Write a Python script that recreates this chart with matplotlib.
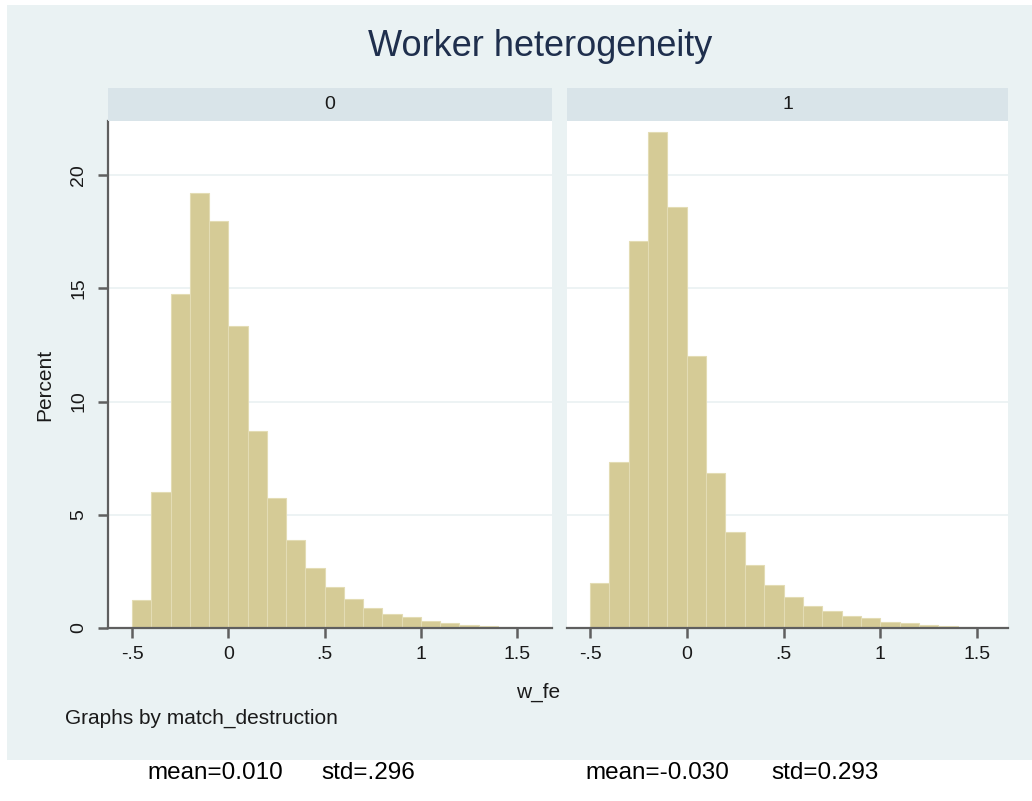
import matplotlib
matplotlib.use("Agg")
import matplotlib.pyplot as plt
from matplotlib.patches import Rectangle

plt.rcParams['font.family'] = ['Liberation Sans', 'DejaVu Sans']

# ---- data ----
bin_edges_start = -0.5
bin_width = 0.1
groups = ["0", "1"]
pct_group0 = [1.23, 6.02, 14.76, 19.2, 17.96, 13.35, 8.69, 5.72, 3.89, 2.64,
              1.80, 1.30, 0.88, 0.63, 0.47, 0.32, 0.20, 0.12, 0.08, 0.05]
pct_group1 = [1.98, 7.32, 17.07, 21.88, 18.6, 12.0, 6.83, 4.24, 2.79, 1.88,
              1.39, 0.99, 0.73, 0.55, 0.43, 0.27, 0.20, 0.12, 0.08, 0.05]
xticks = [-0.5, 0, 0.5, 1, 1.5]
xticklabels = ["-.5", "0", ".5", "1", "1.5"]
yticks = [0, 5, 10, 15, 20]
yticklabels = ["0", "5", "10", "15", "20"]
mean_labels = ["mean=0.010", "mean=-0.030"]
std_labels = ["std=.296", "std=0.293"]
title = "Worker heterogeneity"
xlabel = "w_fe"
ylabel = "Percent"
note = "Graphs by match_destruction"

W, H = 1032, 801
fig = plt.figure(figsize=(W / 100, H / 100), dpi=100)
fig.patch.set_facecolor("white")

def fx(px):
    return px / W

def fy(py):
    return (H - py) / H

bg_col = "#eaf2f3"
strip_col = "#d9e4e9"
bar_col = "#d5cb96"
edge_col = "#e3dcb4"
axis_col = "#5f5f5f"
grid_col = "#eaf1f2"
text_col = "#1a1a1a"

bg = Rectangle((fx(7), fy(760)), fx(1032) - fx(7), fy(5) - fy(760),
               transform=fig.transFigure, facecolor=bg_col,
               edgecolor="none", zorder=-10)
fig.add_artist(bg)

panels = [
    dict(x0=108, x1=552, data=pct_group0, yaxis=True),
    dict(x0=567, x1=1008, data=pct_group1, yaxis=False),
]
ytop_px, ybot_px = 121, 628
strip_top = 88

for i, p in enumerate(panels):
    ax = fig.add_axes([fx(p["x0"]), fy(ybot_px), fx(p["x1"]) - fx(p["x0"]),
                       fy(ytop_px) - fy(ybot_px)])
    ax.set_zorder(1)
    ax.set_facecolor("white")
    n = len(p["data"])
    lefts = [bin_edges_start + k * bin_width for k in range(n)]
    ax.bar(lefts, p["data"], width=bin_width, align="edge", color=bar_col,
           edgecolor=edge_col, linewidth=0.8, zorder=2)
    if i == 0:
        px_m05, px_15 = 132, 517
    else:
        px_m05, px_15 = 590, 977
    ppu = (px_15 - px_m05) / 2.0
    ax.set_xlim(-0.5 - (px_m05 - p["x0"]) / ppu, 1.5 + (p["x1"] - px_15) / ppu)
    ax.set_ylim(0, (ybot_px - ytop_px) / ((628 - 175) / 20.0))
    for yv in yticks[1:]:
        ax.axhline(yv, color=grid_col, lw=1.2, zorder=1)
    ax.set_xticks(xticks)
    ax.set_xticklabels(xticklabels, fontsize=14, color=text_col)
    ax.tick_params(axis="x", direction="out", length=7, width=1.8, color=axis_col, pad=6)
    for s in ["top", "right"]:
        ax.spines[s].set_visible(False)
    ax.spines["bottom"].set_color(axis_col)
    ax.spines["bottom"].set_linewidth(1.6)
    if p["yaxis"]:
        ax.spines["left"].set_color(axis_col)
        ax.spines["left"].set_linewidth(1.6)
        ax.set_yticks(yticks)
        ax.set_yticklabels(yticklabels, fontsize=14, rotation=90, va="center", color=text_col)
        ax.tick_params(axis="y", direction="out", length=7, width=1.8, color=axis_col, pad=8)
    else:
        ax.spines["left"].set_visible(False)
        ax.set_yticks([])
    sax = fig.add_axes([fx(p["x0"]), fy(ytop_px), fx(p["x1"]) - fx(p["x0"]),
                        fy(strip_top) - fy(ytop_px)])
    sax.set_zorder(1)
    sax.set_facecolor(strip_col)
    for s in sax.spines.values():
        s.set_visible(False)
    sax.set_xticks([])
    sax.set_yticks([])
    sax.text(0.5, 0.5, groups[i], ha="center", va="center", fontsize=14,
             color=text_col, transform=sax.transAxes)

fig.text(fx(540), fy(46), title, ha="center", va="center", fontsize=26, color="#1f2f4d")
fig.text(fx(45), fy(385), ylabel, ha="center", va="center", rotation=90, fontsize=15, color=text_col)
fig.text(fx(538), fy(692), xlabel, ha="center", va="center", fontsize=15, color=text_col)
fig.text(fx(65), fy(718), note, ha="left", va="center", fontsize=15, color=text_col)

mean_x = [147, 585]
std_x = [321, 771]
for i in range(2):
    fig.text(fx(mean_x[i]), fy(773), mean_labels[i], ha="left", va="center", fontsize=17.5)
    fig.text(fx(std_x[i]), fy(773), std_labels[i], ha="left", va="center", fontsize=17.5)

fig.savefig("out.png", dpi=100)
